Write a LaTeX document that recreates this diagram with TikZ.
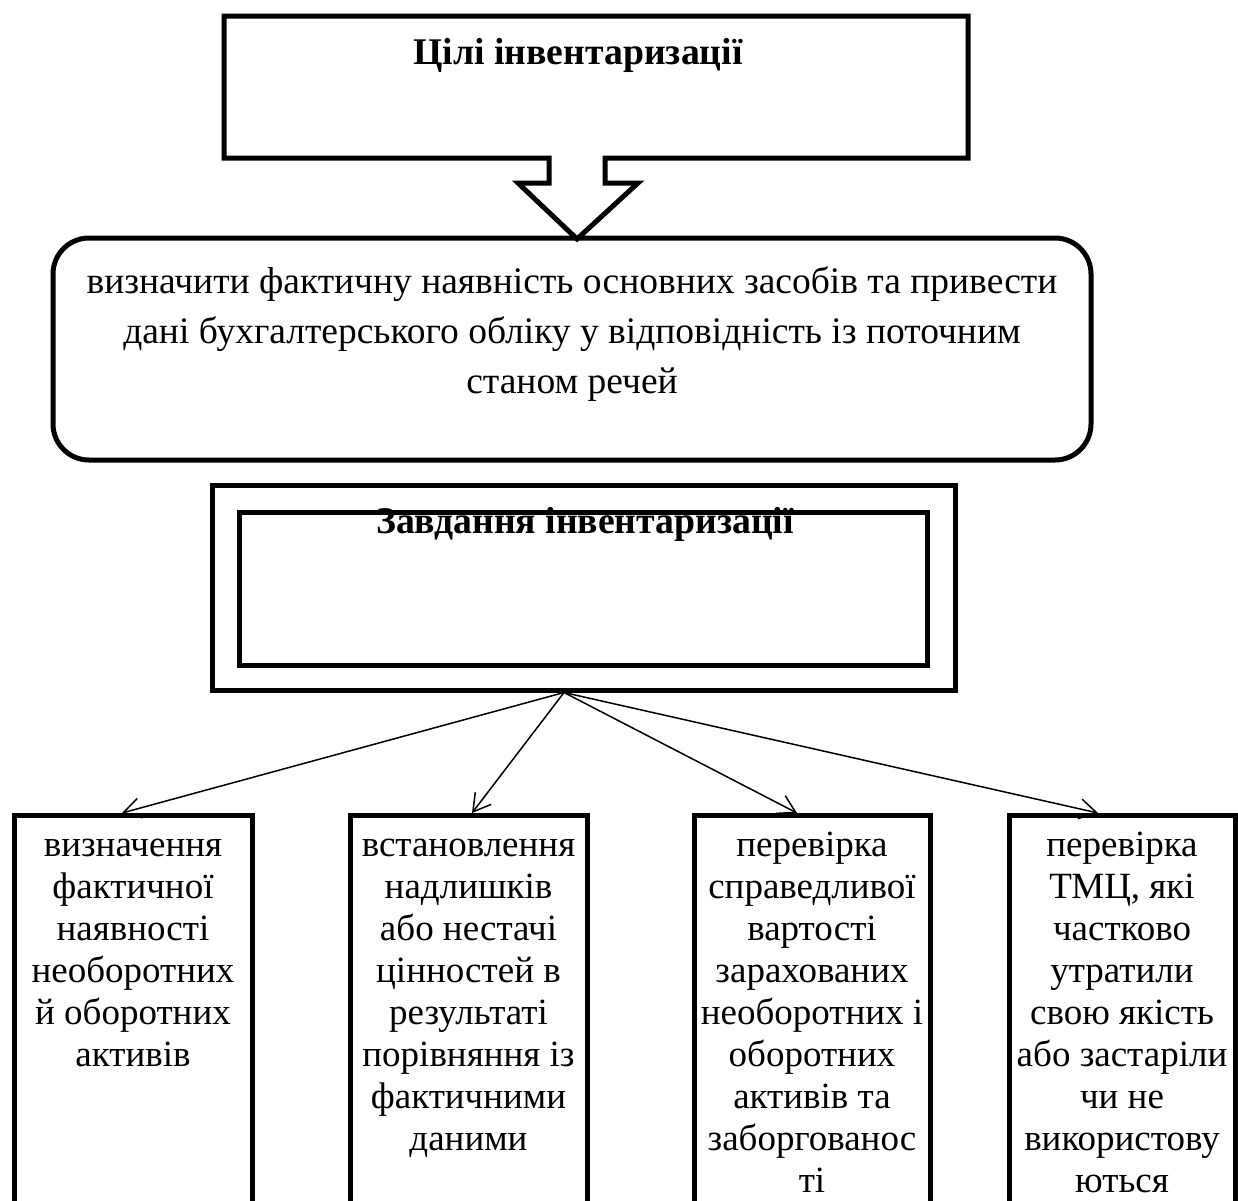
\documentclass[tikz,border=0pt]{standalone}
\usepackage{fontspec}
\setmainfont{Liberation Serif}
\usetikzlibrary{arrows.meta}
\begin{document}
\begin{tikzpicture}[x=1pt,y=-1pt,
  heavy/.style={draw, line width=5pt, inner sep=0pt},
  boxtxt/.style={font=\fontsize{37}{42}\selectfont, align=center, inner sep=0pt, anchor=north},
  headtxt/.style={font=\fontsize{37.7}{42}\selectfont\bfseries, inner sep=0pt, anchor=base},
  link/.style={line width=1.5pt, -{Straight Barb[length=17pt,width=20pt,line width=1.5pt]}}]
\clip (0,0) rectangle (1238,1200);
\useasboundingbox (0,0) rectangle (1238,1200);

% goal box with down arrow
\draw[line width=5pt, line join=miter]
  (224,16) -- (968,16) -- (968,158) -- (605,158) -- (605,183) -- (638,183)
  -- (577,239) -- (518,183) -- (549,183) -- (549,158) -- (224,158) -- cycle;
\node[headtxt] (goal) at (578,64) {Цілі інвентаризації};

% aim rounded box
\node[heavy, rounded corners=36pt, minimum width=1038pt, minimum height=222pt] (aim) at (572,349) {};
\node[boxtxt, font=\fontsize{37.5}{50}\selectfont] (aimtext) at (572,258)
  {\strut визначити фактичну наявність основних засобів та привести\\
   дані бухгалтерського обліку у відповідність із поточним\\
   станом речей};

% tasks double frame
\node[heavy, minimum width=743pt, minimum height=205pt] (tasks) at (583.5,587.5) {};
\node[heavy, minimum width=688pt, minimum height=153pt] (tasksin) at (583,588.5) {};
\node[headtxt] (taskstitle) at (585,533) {Завдання інвентаризації};
\coordinate (src) at ([xshift=-19.5pt]tasks.south);

% bottom boxes
\node[heavy, minimum width=238pt, minimum height=400pt, anchor=north] (b1) at (133,813) {};
\node[heavy, minimum width=237pt, minimum height=400pt, anchor=north] (b2) at (468.5,813) {};
\node[heavy, minimum width=236pt, minimum height=400pt, anchor=north] (b3) at (812,813) {};
\node[heavy, minimum width=226pt, minimum height=400pt, anchor=north] (b4) at (1122,813) {};

\node[boxtxt] (t1) at (133,826.6)
  {\strut визначення\\ фактичної\\ наявності\\ необоротних\\ й оборотних\\ активів};
\node[boxtxt] (t2) at (468.5,826.6)
  {\strut встановлення\\ надлишків\\ або нестачі\\ цінностей в\\ результаті\\ порівняння із\\ фактичними\\ даними};
\node[boxtxt] (t3) at (812,826.6)
  {\strut перевірка\\ справедливої\\ вартості\\ зарахованих\\ необоротних і\\ оборотних\\ активів та\\ заборгованос\\ ті};
\node[boxtxt] (t4) at (1122,826.6)
  {\strut перевірка\\ ТМЦ, які\\ частково\\ утратили\\ свою якість\\ або застаріли\\ чи не\\ використову\\ ються};

% connectors
\draw[link] (src) -- ([xshift=-11pt]b1.north);
\draw[link] (src) -- ([xshift=3.5pt]b2.north);
\draw[link] (src) -- ([xshift=-15pt]b3.north);
\draw[link] (src) -- ([xshift=-24pt]b4.north);
\end{tikzpicture}
\end{document}
